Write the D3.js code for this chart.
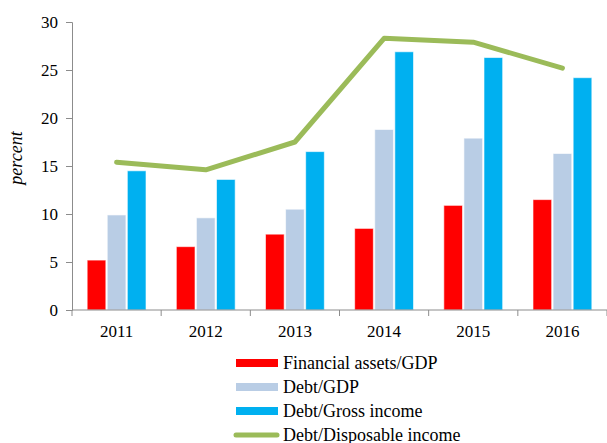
<!DOCTYPE html>
<html>
<head>
<meta charset="utf-8">
<script src="https://cdn.jsdelivr.net/npm/d3@7"></script>
<style>
    body { margin: 0; background: #fff; }
    text { font-family: "Liberation Serif", "Times New Roman", serif; fill: #000; }
</style>
</head>
<body>
<div id="chart"></div>
<script>
// chart values
const years = ["2011", "2012", "2013", "2014", "2015", "2016"];
const financialAssetsGdp = [5.2, 6.6, 7.9, 8.5, 10.9, 11.5];
const debtGdp = [9.9, 9.6, 10.5, 18.8, 17.9, 16.3];
const debtGrossIncome = [14.5, 13.6, 16.5, 26.9, 26.3, 24.2];
const debtDisposableIncome = [15.4, 14.6, 17.5, 28.3, 27.9, 25.2];
const yTicks = [0, 5, 10, 15, 20, 25, 30];

const barSeries = [
    { name: "Financial assets/GDP", values: financialAssetsGdp, color: "#ff0000" },
    { name: "Debt/GDP", values: debtGdp, color: "#b9cde5" },
    { name: "Debt/Gross income", values: debtGrossIncome, color: "#00b0f0" }
];
const lineSeries = { name: "Debt/Disposable income", values: debtDisposableIncome, color: "#9bbb59" };

const width = 607, height = 443;
const margin = { top: 22, right: 0, bottom: 133, left: 72 };
const innerW = width - margin.left - margin.right;
const innerH = height - margin.top - margin.bottom;

const svg = d3.select("#chart").append("svg")
    .attr("width", width)
    .attr("height", height);

const g = svg.append("g")
    .attr("transform", `translate(${margin.left},${margin.top})`);

// scales
const x = d3.scaleBand()
    .domain(years)
    .range([0, innerW]);

const x1 = d3.scaleBand()
    .domain(barSeries.map(d => d.name))
    .range([0, x.bandwidth() * 0.66])
    .paddingInner(0.07);

const groupOffset = (x.bandwidth() - x1.range()[1]) / 2;

const y = d3.scaleLinear()
    .domain([0, 30])
    .range([innerH, 0]);

// bars
barSeries.forEach(s => {
    g.selectAll(null)
        .data(s.values)
        .enter()
        .append("rect")
        .attr("x", (d, i) => x(years[i]) + groupOffset + x1(s.name))
        .attr("y", d => y(d))
        .attr("width", x1.bandwidth())
        .attr("height", d => y(0) - y(d))
        .attr("fill", s.color)
        .attr("stroke", "#ffffff")
        .attr("stroke-opacity", 0.6)
        .attr("stroke-width", 1);
});

// line
const line = d3.line()
    .x((d, i) => x(years[i]) + x.bandwidth() / 2)
    .y(d => y(d));

g.append("path")
    .datum(lineSeries.values)
    .attr("d", line)
    .attr("fill", "none")
    .attr("stroke", lineSeries.color)
    .attr("stroke-width", 5)
    .attr("stroke-linecap", "round")
    .attr("stroke-linejoin", "round");

// y axis
const yAxis = g.append("g")
    .attr("font-family", null)
    .call(d3.axisLeft(y).tickValues(yTicks).tickSize(6).tickPadding(8));
yAxis.attr("font-family", null);
yAxis.select(".domain").attr("stroke", "#8c8c8c");
yAxis.selectAll(".tick line").attr("stroke", "#8c8c8c");
yAxis.selectAll("text").style("font-size", "17px");

// x axis: ticks at category boundaries
const xAxisG = g.append("g")
    .attr("transform", `translate(0,${innerH})`);
xAxisG.append("line")
    .attr("x1", 0).attr("x2", innerW)
    .attr("stroke", "#8c8c8c");
xAxisG.selectAll(".xtick")
    .data(years.concat(["end"]))
    .enter()
    .append("line")
    .attr("x1", (d, i) => i * x.step())
    .attr("x2", (d, i) => i * x.step())
    .attr("y1", 0).attr("y2", 6)
    .attr("stroke", "#8c8c8c");
xAxisG.selectAll(".xlabel")
    .data(years)
    .enter()
    .append("text")
    .attr("x", d => x(d) + x.bandwidth() / 2)
    .attr("y", 27)
    .attr("text-anchor", "middle")
    .style("font-size", "17px")
    .text(d => d);

// y axis title
svg.append("text")
    .attr("transform", `translate(22,${margin.top + innerH / 2 - 8}) rotate(-90)`)
    .attr("text-anchor", "middle")
    .style("font-size", "18px")
    .style("font-style", "italic")
    .text("percent");

// legend
const legendItems = barSeries.map(s => ({ name: s.name, color: s.color, type: "bar" }))
    .concat([{ name: lineSeries.name, color: lineSeries.color, type: "line" }]);

const legend = svg.append("g")
    .attr("transform", "translate(236,363)");

legendItems.forEach((d, i) => {
    const row = legend.append("g").attr("transform", `translate(0,${i * 24})`);
    if (d.type === "bar") {
        row.append("rect")
            .attr("x", 0).attr("y", -4)
            .attr("width", 42).attr("height", 8)
            .attr("fill", d.color);
    } else {
        row.append("line")
            .attr("x1", 0).attr("x2", 41)
            .attr("stroke", d.color)
            .attr("stroke-width", 5)
            .attr("stroke-linecap", "round");
    }
    row.append("text")
        .attr("x", 47)
        .attr("y", 0)
        .attr("dy", "0.35em")
        .style("font-size", "18px")
        .text(d.name);
});
</script>
</body>
</html>
